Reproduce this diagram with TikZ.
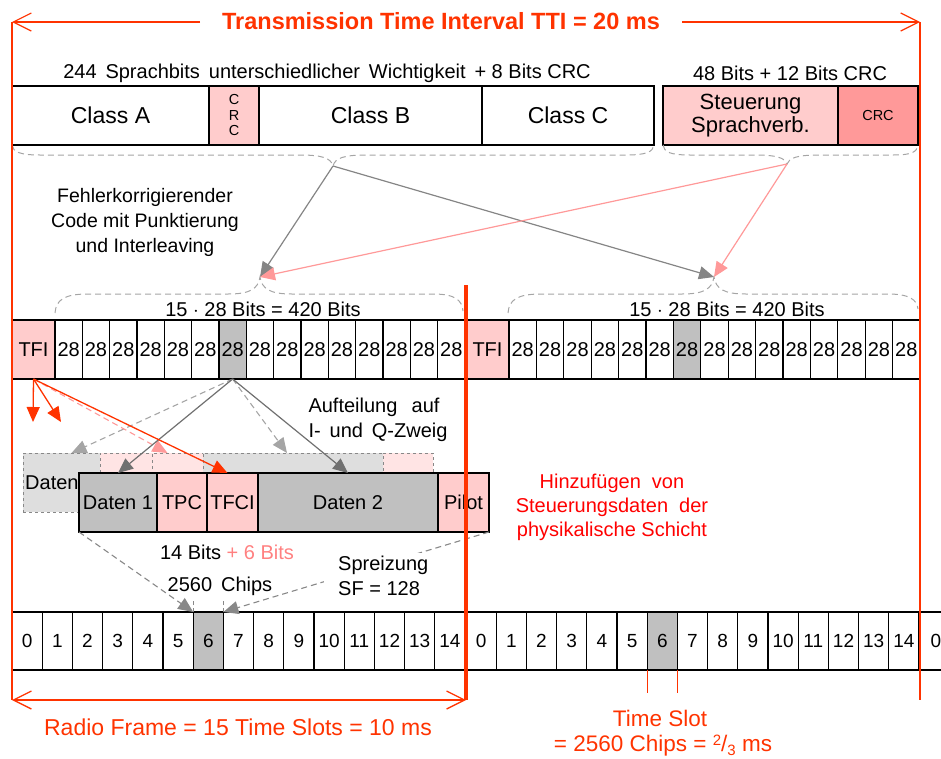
\documentclass[tikz,border=0pt]{standalone}
\usepackage{fontspec}
\setmainfont{Liberation Sans}
\usetikzlibrary{arrows.meta}
\definecolor{ro}{RGB}{255,51,0}
\definecolor{pk}{RGB}{255,204,204}
\definecolor{pkd}{RGB}{255,153,153}
\definecolor{pkl}{RGB}{255,228,228}
\definecolor{gc}{RGB}{192,192,192}
\definecolor{gl}{RGB}{222,222,222}
\definecolor{gd}{RGB}{136,136,136}
\definecolor{gdark}{RGB}{112,112,112}
\definecolor{lg}{RGB}{165,165,165}
\definecolor{pktxt}{RGB}{255,128,128}
\newcommand{\fsz}[1]{\fontsize{#1}{#1}\selectfont}
\newcommand{\fszb}[2]{\fontsize{#1}{#2}\selectfont}
\begin{document}
\begin{tikzpicture}[x=1pt,y=-1pt,
  topbox/.style={draw, line width=2.6pt, minimum height=59pt, inner sep=0pt, outer sep=0pt, anchor=north west, font=\fsz{23}},
  topboxb/.style={topbox, line width=1.6pt},
  cellrow/.style={draw, line width=1.3pt, minimum height=59pt, inner sep=0pt, outer sep=0pt, anchor=north west, font=\fsz{20}},
  chipcell/.style={draw, line width=1.3pt, minimum width=30.2pt, minimum height=58pt, inner sep=0pt, outer sep=0pt, anchor=north west, font=\fsz{19}},
  ghostbox/.style={draw=gd, dashed, line width=1pt, minimum height=59pt, inner sep=0pt, outer sep=0pt, anchor=north west},
  bracepath/.style={draw=lg, dash pattern=on 6pt off 4pt, line width=1pt},
  tri/.style={-{Triangle[length=15pt,width=13pt]}},
  barb/.style={-{Straight Barb[length=18pt,width=18pt]}},
  dbarb/.style={{Straight Barb[length=18pt,width=18pt]}-{Straight Barb[length=18pt,width=18pt]}},
  txt/.style={font=\fsz{20}, inner sep=0pt}
]
\useasboundingbox (0,0) rectangle (941,758);

% ---------- title ----------
\node[font=\bfseries\fsz{23.5}, text=ro] (title) at (441,21) {Transmission Time Interval TTI = 20 ms};
\coordinate (tl) at (12,22); \coordinate (tr) at (920,22);
\coordinate (tal) at (200,22); \coordinate (tar) at (682,22);
\draw[ro, line width=1.2pt, barb] (tal) -- (tl);
\draw[ro, line width=1.2pt, barb] (tar) -- (tr);

% ---------- top row ----------
\node[txt] (lab244) at (327,73) {244\ \,Sprachbits\ \,unterschiedlicher\ \,Wichtigkeit\ \,+ 8 Bits CRC};
\node[txt] (lab48) at (790,73) {48 Bits + 12 Bits CRC};
\node[topbox, minimum width=197pt] (ca) at (12,86) {Class A};
\node[topbox, fill=pk, minimum width=50pt, font=\fszb{14.5}{15.5}, align=center] (crc1) at (209,86) {C\\R\\C};
\node[topbox, minimum width=223pt] (cb) at (259,86) {Class B};
\node[topbox, minimum width=172pt] (cc) at (482,86) {Class C};
\node[topboxb, fill=pk, minimum width=175pt, font=\fszb{22}{23}, align=center] (st) at (663,86) {Steuerung\\Sprachverb.};
\node[topboxb, fill=pkd, minimum width=80pt, font=\fsz{14.5}] (crc2) at (838,86) {CRC};

% braces under top row
\coordinate (bt1) at (333,166);
\coordinate (bt2) at (787,164);
\draw[bracepath] (12,145) .. controls (13,152) and (20,155) .. (40,155) -- (300,155) .. controls (322,155) and (331,158) .. (bt1) .. controls (335,158) and (344,155) .. (366,155) -- (626,155) .. controls (646,155) and (653,152) .. (654,145);
\draw[bracepath] (663,145) .. controls (664,152) and (670,155) .. (690,155) -- (755,155) .. controls (777,155) and (785,158) .. (bt2) .. controls (789,158) and (797,155) .. (819,155) -- (893,155) .. controls (912,155) and (917,152) .. (918,145);

% braces above TFI rows
\coordinate (bt3) at (260,277);
\coordinate (bt4) at (714,277);
\draw[bracepath] (55,313) .. controls (56,300) and (64,294) .. (88,294) -- (228,294) .. controls (250,294) and (258,289) .. (bt3) .. controls (262,289) and (270,294) .. (292,294) -- (433,294) .. controls (455,294) and (462,300) .. (463,311);
\draw[bracepath] (508,313) .. controls (509,300) and (517,294) .. (541,294) -- (682,294) .. controls (704,294) and (712,289) .. (bt4) .. controls (716,289) and (724,294) .. (746,294) -- (888,294) .. controls (910,294) and (917,300) .. (918,309);

\node[font=\fszb{19.5}{25}, align=center] (fk) at (145,222) {Fehlerkorrigierender\\Code mit Punktierung\\und Interleaving};

\draw[gdark!85!white, line width=1.2pt, tri] (bt1) -- (bt3);
\draw[gdark!85!white, line width=1.2pt, tri] (bt1) -- (bt4);
\draw[pkd, line width=1.2pt, tri] (bt2) -- (bt3);
\draw[pkd, line width=1.2pt, tri] (bt2) -- (bt4);

\node[txt] (l420a) at (263,309) {15 $\cdot$ 28 Bits = 420 Bits};
\node[txt] (l420b) at (727,309) {15 $\cdot$ 28 Bits = 420 Bits};

% ---------- TFI rows ----------
\node[cellrow, fill=pk, minimum width=43pt] (tfiL) at (12,320) {TFI};
\foreach \i in {1,...,15} {
  \ifnum\i=7 \def\cc{gc}\else\def\cc{white}\fi
  \node[cellrow, fill=\cc, minimum width=27.33pt] (cL\i) at ({55+27.33*(\i-1)},320) {28};
}
\node[cellrow, fill=pk, minimum width=43pt] (tfiR) at (466,320) {TFI};
\foreach \i in {1,...,15} {
  \ifnum\i=7 \def\cc{gc}\else\def\cc{white}\fi
  \node[cellrow, fill=\cc, minimum width=27.4pt] (cR\i) at ({509+27.4*(\i-1)},320) {28};
}

% ---------- ghost (I/Q) row ----------
\node[ghostbox, fill=gl, minimum width=77pt] (g1) at (23,453) {};
\node[ghostbox, fill=pkl, minimum width=52pt] (g2) at (100,453) {};
\node[ghostbox, fill=pkl, minimum width=51pt] (g3) at (152,453) {};
\node[ghostbox, fill=gl, minimum width=180pt] (g4) at (203,453) {};
\node[ghostbox, fill=pkl, minimum width=50pt] (g5) at (383,453) {};
\node[anchor=west, inner xsep=2pt, font=\fsz{20}] (gtxt) at (g1.west) {Daten};

% ---------- front row ----------
\node[cellrow, fill=gc, minimum width=78pt] (d1) at (79,473) {Daten 1};
\node[cellrow, fill=pk, minimum width=50pt] (tpc) at (157,473) {TPC};
\node[cellrow, fill=pk, minimum width=51pt] (tfci) at (207,473) {TFCI};
\node[cellrow, fill=gc, minimum width=180pt] (d2) at (258,473) {Daten 2};
\node[cellrow, fill=pk, minimum width=51pt] (pilot) at (438,473) {Pilot};

% arrows from TFI and the grey 28
\coordinate (ra1) at (33,422);
\coordinate (ra2) at (61,422);
\draw[lg, line width=1.1pt, dash pattern=on 6pt off 4pt, tri] (cL7.south) -- ([xshift=10]g1.north);
\draw[lg, line width=1.1pt, dash pattern=on 6pt off 4pt, tri] (cL7.south) -- ([xshift=-6]g4.north);
\draw[pkd, line width=1.1pt, dash pattern=on 6pt off 4pt, tri] (tfiL.south) -- ([xshift=-10]g3.north);
\draw[gdark, line width=1.2pt, tri] (cL7.south) -- (d1.north);
\draw[gdark, line width=1.2pt, tri] (cL7.south) -- (d2.north);
\draw[ro, line width=1.3pt, tri] (tfiL.south) -- (ra1);
\draw[ro, line width=1.3pt, tri] (tfiL.south) -- (ra2);
\draw[ro, line width=1.3pt, tri] (tfiL.south) -- ([xshift=-5]tfci.north);

\node[font=\fszb{20}{25}, align=left, inner sep=0pt] (auf) at (378,420) {\makebox[131pt][s]{Aufteilung\hfill auf}\\I-\ \,und\ \,Q-Zweig};
\node[font=\fszb{20}{24}, text=red, align=center] (hz) at (612,507) {Hinzufügen\ \ von\\Steuerungsdaten\ \ der\\physikalische Schicht};

% ---------- chips rows ----------
\foreach \i in {0,...,14} {
  \ifnum\i=6 \def\cc{gc}\else\def\cc{white}\fi
  \node[chipcell, fill=\cc] (chL\i) at ({12+30.2*\i},612) {\i};
}
\foreach \i in {0,...,14} {
  \ifnum\i=6 \def\cc{gc}\else\def\cc{white}\fi
  \node[chipcell, fill=\cc] (chR\i) at ({466+30.2*\i},612) {\i};
}
\coordinate (edgeT) at (941,612);
\coordinate (edgeB) at (941,670);
\draw[line width=1.3pt] (chR14.north east) -- (edgeT);
\draw[line width=1.3pt] (chR14.south east) -- (edgeB);
\node[font=\fsz{19}, inner sep=0pt] (chX) at (936,641) {0};

% spreading
\draw[gd, line width=1.1pt, dash pattern=on 6pt off 4pt, tri] (d1.south west) -- (chL6.north west);
\draw[gd, line width=1.1pt, dash pattern=on 6pt off 4pt, tri] (pilot.south east) -- (chL6.north east);
\draw[gd, line width=1pt, dash pattern=on 4pt off 3pt] (chL6.north west) -- ([yshift=11]chL6.north west);
\draw[gd, line width=1pt, dash pattern=on 4pt off 3pt] (chL6.north east) -- ([yshift=11]chL6.north east);
\node[fill=white, font=\fszb{20}{25}, align=left, anchor=west, inner xsep=14pt, inner ysep=3pt] (spr) at (324,576) {Spreizung\\SF = 128};
\node[txt] (b14) at (227,552) {14 Bits \textcolor{pktxt}{+ 6 Bits}};
\node[txt] (chips) at (220,586) {2560\ \,Chips};

% ---------- red frame lines ----------
\coordinate (rfl) at (12,700);
\coordinate (rfr) at (466,700);
\coordinate (thk) at (466,285);
\coordinate (rr) at (920,700);
\draw[ro, line width=1.2pt] (tl) -- (rfl);
\draw[ro, line width=1.2pt] (tr) -- (rr);
\draw[ro, line width=4pt] (thk) -- (rfr);
\draw[ro, line width=1.3pt, dbarb] (rfl) -- (rfr);
\node[font=\fsz{23}, text=ro] (rft) at (238,727) {Radio Frame = 15 Time Slots = 10 ms};

\draw[ro, line width=1.2pt] (chR6.south west) -- ([yshift=-23]chR6.south west);
\draw[ro, line width=1.2pt] (chR6.south east) -- ([yshift=-23]chR6.south east);
\node[font=\fsz{22.5}, text=ro] (ts1) at (660,718) {Time Slot};
\node[font=\fsz{22.5}, text=ro] (ts2) at (663,746) {= 2560 Chips = \raisebox{6pt}{\fsz{15}2}/\raisebox{-4pt}{\fsz{15}3} ms};
\end{tikzpicture}
\end{document}
